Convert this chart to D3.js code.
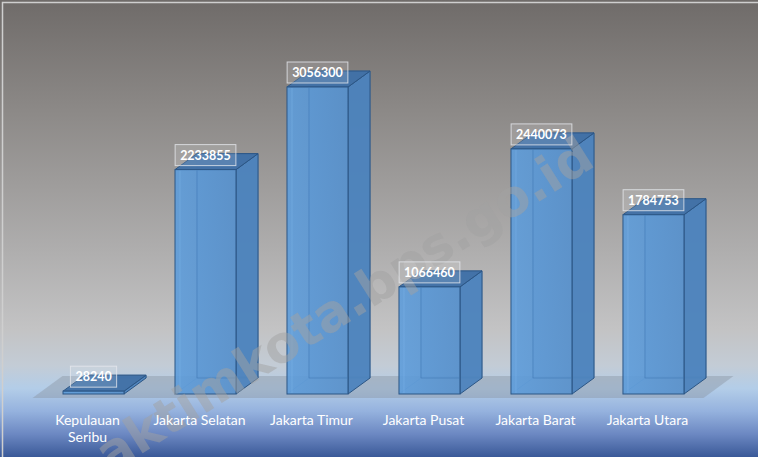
<!DOCTYPE html>
<html>
<head>
<meta charset="utf-8">
<script src="https://cdn.jsdelivr.net/npm/d3@7"></script>
<style>
  html, body { margin: 0; padding: 0; background: #fff; }
  svg { display: block; }
</style>
</head>
<body>
<div class="svg-container"></div>
<script>
// data
var categories = ["Kepulauan Seribu", "Jakarta Selatan", "Jakarta Timur",
                  "Jakarta Pusat", "Jakarta Barat", "Jakarta Utara"];
var values = [28240, 2233855, 3056300, 1066460, 2440073, 1784753];
var watermark = "aktimkota.bps.go.id";

var fullWidth = 758, fullHeight = 457;
var depthX = 22, depthY = 16;   // 3d offset of the bar back face

var svg = d3.select(".svg-container")
    .append("svg")
    .attr("width", fullWidth)
    .attr("height", fullHeight);

var defs = svg.append("defs");

// background gradient: grey on top, blue at the bottom
var bg = defs.append("linearGradient")
    .attr("id", "bg")
    .attr("x1", 0).attr("y1", 0).attr("x2", 0).attr("y2", 1);
[[0, "#6f6b69"], [0.25, "#8d8a88"], [0.55, "#afaeae"], [0.72, "#c3c3c4"],
 [0.8, "#c3ccd6"], [0.85, "#b3cde8"], [0.9, "#95b2de"], [0.95, "#6c88c2"],
 [1, "#3a5998"]].forEach(function(s) {
    bg.append("stop").attr("offset", s[0]).attr("stop-color", s[1]);
});

var front = defs.append("linearGradient")
    .attr("id", "front")
    .attr("x1", 0).attr("y1", 0).attr("x2", 1).attr("y2", 0);
front.append("stop").attr("offset", 0).attr("stop-color", "#5e9ddb");
front.append("stop").attr("offset", 1).attr("stop-color", "#5891cc");

svg.append("rect")
    .attr("x", 0).attr("y", 0)
    .attr("width", fullWidth).attr("height", fullHeight)
    .attr("fill", "url(#bg)");

svg.append("rect")
    .attr("x", 2.5).attr("y", 2.5)
    .attr("width", fullWidth + 10).attr("height", fullHeight + 10)
    .attr("fill", "none")
    .attr("stroke", "#cfcfcf")
    .attr("stroke-width", 1.5);

// scales
var x = d3.scaleBand()
    .domain(categories)
    .range([37.5, 709.5])
    .paddingInner(0.455)
    .paddingOuter(0.2277);

var y = d3.scaleLinear()
    .domain([0, 3056300])
    .range([394, 87]);

var base = y(0);

var barData = categories.map(function(c, i) { return {name: c, value: values[i]}; });

// floor
var floorFront = base + 4, floorBack = floorFront - 22;
svg.append("path")
    .attr("d", d3.line()([[x.range()[0] - 5, floorFront], [x.range()[1] - 6, floorFront],
                          [x.range()[1] + 24, floorBack], [x.range()[0] + 25, floorBack]]) + "Z")
    .attr("fill", "#8c96a4")
    .attr("fill-opacity", 0.45);

// bars
var bars = svg.append("g").selectAll("g.bar")
    .data(barData)
    .enter()
    .append("g")
    .attr("class", "bar");

function face(pts) { return d3.line()(pts) + "Z"; }

bars.each(function(d) {
    var g = d3.select(this);
    var x0 = x(d.name), x1 = x0 + x.bandwidth();
    var yt = y(d.value);
    // back face edges (seen through the glass)
    g.append("path")
        .attr("d", face([[x0 + depthX, yt - depthY], [x1 + depthX, yt - depthY],
                         [x1 + depthX, base - depthY], [x0 + depthX, base - depthY]]))
        .attr("fill", "#4f86c2").attr("fill-opacity", 0.35)
        .attr("stroke", "#3f74ad").attr("stroke-opacity", 0.5);
    g.append("line")
        .attr("x1", x0).attr("y1", base)
        .attr("x2", x0 + depthX).attr("y2", base - depthY)
        .attr("stroke", "#3f74ad").attr("stroke-opacity", 0.5);
    // side
    g.append("path")
        .attr("d", face([[x1, yt], [x1 + depthX, yt - depthY],
                         [x1 + depthX, base - depthY], [x1, base]]))
        .attr("fill", "#4b82bd").attr("fill-opacity", 0.92)
        .attr("stroke", "#2c5685").attr("stroke-width", 1);
    // top
    g.append("path")
        .attr("d", face([[x0, yt], [x0 + depthX, yt - depthY],
                         [x1 + depthX, yt - depthY], [x1, yt]]))
        .attr("fill", "#3f70a6").attr("fill-opacity", 0.95)
        .attr("stroke", "#2c5685").attr("stroke-width", 1);
    // front
    g.append("rect")
        .attr("x", x0).attr("y", yt)
        .attr("width", x.bandwidth()).attr("height", base - yt)
        .attr("fill", "url(#front)").attr("fill-opacity", 0.9)
        .attr("stroke", "#2c5685").attr("stroke-width", 1);
    // inner highlight lines
    if (base - yt > 20) {
        g.append("line")
            .attr("x1", x0 + 5).attr("x2", x0 + 5)
            .attr("y1", yt + 1).attr("y2", base - 1)
            .attr("stroke", "#7fb5ea").attr("stroke-opacity", 0.45);
        g.append("line")
            .attr("x1", x0 + depthX).attr("x2", x0 + depthX)
            .attr("y1", yt + 1).attr("y2", base - depthY)
            .attr("stroke", "#3f74ad").attr("stroke-opacity", 0.45);
        g.append("line")
            .attr("x1", x0 + depthX).attr("x2", x1)
            .attr("y1", base - depthY).attr("y2", base - depthY)
            .attr("stroke", "#3f74ad").attr("stroke-opacity", 0.45);
    }
});

// watermark over the bars
svg.append("text")
    .attr("transform", "translate(110,474) rotate(-32.4)")
    .attr("font-family", "'DejaVu Sans', sans-serif")
    .attr("font-weight", "bold")
    .attr("font-size", "51px")
    .attr("fill", "#a2a2a2")
    .attr("fill-opacity", 0.5)
    .text(watermark);

// value labels in boxes
var labels = svg.append("g").selectAll("g.val")
    .data(barData)
    .enter()
    .append("g")
    .attr("class", "val");

labels.each(function(d) {
    var g = d3.select(this);
    var cx = x(d.name) + x.bandwidth() / 2;
    var yb = y(d.value) - 4;
    var t = g.append("text")
        .attr("x", cx).attr("y", yb - 6)
        .attr("text-anchor", "middle")
        .attr("font-family", "Lato, 'Open Sans', sans-serif")
        .attr("font-weight", "bold")
        .attr("font-size", "12.5px")
        .attr("fill", "#fff")
        .text(d.value);
    var w = t.node().getComputedTextLength() + 10;
    g.insert("rect", "text")
        .attr("x", cx - w / 2).attr("y", yb - 21)
        .attr("width", w).attr("height", 21)
        .attr("fill", "#ffffff").attr("fill-opacity", 0.12)
        .attr("stroke", "#e6e9ee").attr("stroke-opacity", 0.8);
});

// category labels
svg.selectAll("text.cat")
    .data(categories)
    .enter()
    .append("text")
    .attr("class", "cat")
    .attr("x", function(d) { return x(d) + x.bandwidth() / 2 - 6; })
    .attr("y", 425)
    .attr("text-anchor", "middle")
    .attr("font-family", "Lato, 'Open Sans', sans-serif")
    .attr("font-size", "14px")
    .attr("fill", "#ffffff")
    .each(function(d) {
        var words = d === "Kepulauan Seribu" ? ["Kepulauan", "Seribu"] : [d];
        var el = d3.select(this);
        words.forEach(function(w, i) {
            el.append("tspan")
                .attr("x", el.attr("x"))
                .attr("dy", i === 0 ? 0 : 17)
                .text(w);
        });
    });
</script>
</body>
</html>
